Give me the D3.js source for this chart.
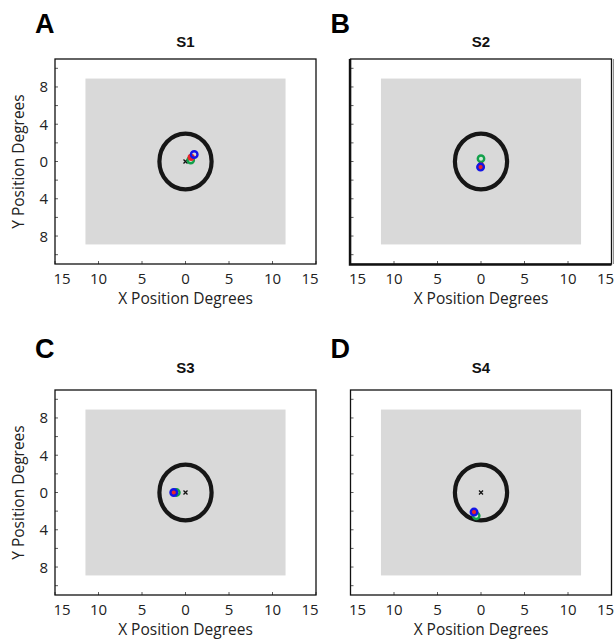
<!DOCTYPE html>
<html><head><meta charset="utf-8">
<script src="https://cdn.jsdelivr.net/npm/d3@7"></script>
<style>body{margin:0;background:#fff}svg{display:block}</style>
</head><body>
<svg id="c" width="614" height="642"></svg>
<script>
// ---- data ----
const panelLetters = ["A", "B", "C", "D"];
const subjects = ["S1", "S2", "S3", "S4"];
const xTicks = [-15, -10, -5, 0, 5, 10, 15];
const yLabelTicks = [-8, -4, 0, 4, 8];
const yMinorTicks = [-10, -8, -6, -4, -2, 0, 2, 4, 6, 8, 10];
const screenHalfW = 11.5, screenHalfH = 8.9;   // grey stimulus area (deg)
const fixRadius = 3;                           // black circle radius (deg)
const greenX = [0.6, 0.0, -1.05, -0.55];
const greenY = [0.15, 0.3, 0.0, -2.5];
const redX = [0.65, 0.0, -1.35, -0.8];
const redY = [0.45, -0.5, 0.0, -2.1];
const blueX = [1.0, -0.05, -1.35, -0.8];
const blueY = [0.75, -0.6, 0.0, -2.1];

const svg = d3.select("#c");
const W = 261, H = 205;
const origins = [[55, 59], [350.5, 59], [55, 390], [350.5, 390]];
const fontTick = "'Open Sans', 'DejaVu Sans', sans-serif";
const fontHead = "'Liberation Sans', Arial, sans-serif";

panelLetters.forEach((letter, i) => {
  const [ox, oy] = origins[i];
  const top = i < 2;
  const g = svg.append("g").attr("transform", `translate(${ox},${oy})`);
  const x = d3.scaleLinear().domain([-15, 15]).range([0, W]);
  const y = d3.scaleLinear().domain([-11, 11]).range([H, 0]);

  // grey stimulus area
  g.append("rect")
    .attr("x", x(-screenHalfW)).attr("y", y(screenHalfH))
    .attr("width", x(screenHalfW) - x(-screenHalfW))
    .attr("height", y(-screenHalfH) - y(screenHalfH))
    .attr("fill", "#d9d9d9");

  // fixation window
  g.append("ellipse")
    .attr("cx", x(0)).attr("cy", y(0))
    .attr("rx", x(fixRadius) - x(0)).attr("ry", y(0) - y(fixRadius))
    .attr("fill", "none").attr("stroke", "#161616").attr("stroke-width", 4.2);

  // centre cross
  const cs = 2;
  g.append("path")
    .attr("d", `M${x(0)-cs},${y(0)-cs}L${x(0)+cs},${y(0)+cs}M${x(0)-cs},${y(0)+cs}L${x(0)+cs},${y(0)-cs}`)
    .attr("stroke", "#111").attr("stroke-width", 1.3);

  // points
  g.append("circle").attr("cx", x(greenX[i])).attr("cy", y(greenY[i])).attr("r", 3.2)
    .attr("fill", "#cfe8d6").attr("stroke", "#12a04a").attr("stroke-width", 2.4);
  g.append("circle").attr("cx", x(redX[i])).attr("cy", y(redY[i])).attr("r", 3.6)
    .attr("fill", "#e8262a");
  g.append("circle").attr("cx", x(blueX[i])).attr("cy", y(blueY[i])).attr("r", 3.3)
    .attr("fill", "none").attr("stroke", "#1414e6").attr("stroke-width", 2.4);

  // ticks (inward)
  g.selectAll(".xt").data(xTicks).join("line")
    .attr("x1", d => x(d)).attr("x2", d => x(d)).attr("y1", H).attr("y2", H - 3)
    .attr("stroke", "#333").attr("stroke-width", 0.8);
  g.selectAll(".yt").data(yMinorTicks).join("line")
    .attr("x1", 0).attr("x2", 3).attr("y1", d => y(d)).attr("y2", d => y(d))
    .attr("stroke", "#333").attr("stroke-width", 0.8);

  // frame
  g.append("rect").attr("x", 0).attr("y", 0).attr("width", W).attr("height", H)
    .attr("fill", "none").attr("stroke", "#111").attr("stroke-width", 1.3);
  if (i === 1) {
    g.append("path").attr("d", `M-0.5,0V${H+0.6}H${W}`).attr("fill", "none")
      .attr("stroke", "#111").attr("stroke-width", 2.4);
    g.append("path").attr("d", `M${W+2.5},0V${H}`).attr("fill", "none")
      .attr("stroke", "#222").attr("stroke-width", 1);
  }

  // x tick labels
  g.selectAll(".xl").data(xTicks).join("text")
    .attr("x", d => x(d) + (d === -15 ? 7 : d === 15 ? -6 : 0))
    .attr("y", H + 19.5)
    .attr("text-anchor", "middle")
    .attr("font-family", fontTick).attr("font-size", 15).attr("fill", "#222")
    .text(d => Math.abs(d));

  // y tick labels (left column)
  if (i % 2 === 0) {
    g.selectAll(".yl").data(yLabelTicks).join("text")
      .attr("x", -7).attr("y", d => y(d) + 5.5)
      .attr("text-anchor", "end")
      .attr("font-family", fontTick).attr("font-size", 15).attr("fill", "#222")
      .text(d => Math.abs(d));
    g.append("text")
      .attr("transform", `translate(${-31},${H / 2}) rotate(-90)`)
      .attr("text-anchor", "middle")
      .attr("font-family", fontTick).attr("font-size", 15.5).attr("fill", "#222")
      .text("Y Position Degrees");
  }

  // x axis title
  g.append("text")
    .attr("x", W / 2).attr("y", H + 40)
    .attr("text-anchor", "middle")
    .attr("font-family", fontTick).attr("font-size", 15.5).attr("fill", "#222")
    .text("X Position Degrees");

  // subject title
  g.append("text")
    .attr("x", W / 2).attr("y", top ? -12 : -17)
    .attr("text-anchor", "middle")
    .attr("font-family", fontHead).attr("font-weight", "bold")
    .attr("font-size", 15).attr("fill", "#111")
    .text(subjects[i]);

  // panel letter
  g.append("text")
    .attr("x", -20).attr("y", top ? -26 : -32)
    .attr("font-family", fontHead).attr("font-weight", "bold")
    .attr("font-size", 27).attr("fill", "#000")
    .text(letter);
});
</script>
</body></html>
